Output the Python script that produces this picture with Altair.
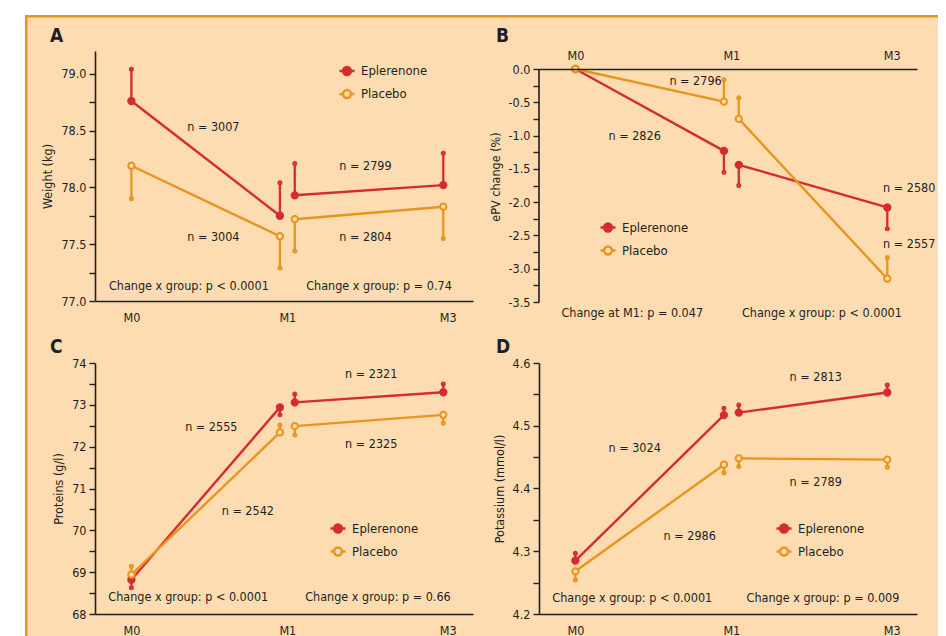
import json
import altair as alt
import pandas as pd

FONT = "DejaVu Sans Condensed"
RED = "#D52B33"
ORANGE = "#E8951E"
PEACH = "#FDDCB2"
INK = "#231F20"
FS = 12.5

groups = ["Eplerenone", "Placebo"]
visits = ["M0", "M1", "M1", "M3"]
x_pos = [0.0, 1.0, 1.1, 2.1]
segment = [1, 1, 2, 2]
x_tick_pos = [0.0, 1.05, 2.13]
x_tick_labels = ["M0", "M1", "M3"]

# Panel A - weight
A_epl = [78.76, 77.75, 77.93, 78.02]
A_epl_err = [79.04, 78.04, 78.21, 78.30]
A_pla = [78.19, 77.57, 77.72, 77.83]
A_pla_err = [77.90, 77.29, 77.44, 77.55]
A_ticks = [77.0, 77.25, 77.5, 77.75, 78.0, 78.25, 78.5, 78.75, 79.0]
A_notes = ["n = 3007", "n = 3004", "n = 2799", "n = 2804",
           "Change x group: p < 0.0001", "Change x group: p = 0.74"]
A_note_x = [0.552, 0.552, 1.576, 1.576, 0.387, 1.667]
A_note_y = [78.53, 77.56, 78.185, 77.56, 77.135, 77.135]

# Panel B - ePV change
B_epl = [0.0, -1.23, -1.44, -2.08]
B_epl_err = [None, -1.55, -1.75, -2.40]
B_pla = [0.0, -0.49, -0.75, -3.15]
B_pla_err = [None, -0.16, -0.43, -2.83]
B_ticks = [0.0, -0.25, -0.5, -0.75, -1.0, -1.25, -1.5, -1.75, -2.0,
           -2.25, -2.5, -2.75, -3.0, -3.25, -3.5]
B_axis_span = [0.0, -3.5]
B_notes = ["n = 2796", "n = 2826", "n = 2580", "n = 2557",
           "Change at M1: p = 0.047", "Change x group: p < 0.0001"]
B_note_x = [0.809, 0.399, 2.248, 2.248, 0.383, 1.66]
B_note_y = [-0.176, -1.005, -1.788, -2.63, -3.67, -3.67]

# Panel C - proteins
C_epl = [68.82, 72.94, 73.06, 73.30]
C_epl_err = [68.63, 72.76, 73.26, 73.50]
C_pla = [68.94, 72.34, 72.49, 72.76]
C_pla_err = [69.14, 72.52, 72.28, 72.56]
C_ticks = [68.0, 68.5, 69.0, 69.5, 70.0, 70.5, 71.0, 71.5, 72.0, 72.5, 73.0, 73.5, 74.0]
C_notes = ["n = 2321", "n = 2555", "n = 2325", "n = 2542",
           "Change x group: p < 0.0001", "Change x group: p = 0.66"]
C_note_x = [1.615, 0.538, 1.615, 0.784, 0.383, 1.66]
C_note_y = [73.744, 72.47, 72.06, 70.47, 68.395, 68.395]

# Panel D - potassium
D_epl = [4.285, 4.517, 4.521, 4.553]
D_epl_err = [4.297, 4.528, 4.533, 4.565]
D_pla = [4.268, 4.438, 4.448, 4.446]
D_pla_err = [4.254, 4.425, 4.435, 4.434]
D_ticks = [4.2, 4.25, 4.3, 4.35, 4.4, 4.45, 4.5, 4.55, 4.6]
D_notes = ["n = 2813", "n = 3024", "n = 2789", "n = 2986",
           "Change x group: p < 0.0001", "Change x group: p = 0.009"]
D_note_x = [1.618, 0.399, 1.618, 0.770, 0.383, 1.667]
D_note_y = [4.578, 4.464, 4.411, 4.324, 4.226, 4.226]

LEG_PATH = ("M-1,0L-0.53,0M0.53,0L1,0"
            "M-0.53,0A0.53,0.53,0,1,0,0.53,0A0.53,0.53,0,1,0,-0.53,0")

x_label_expr = "%s[indexof(%s, datum.value)]" % (json.dumps(x_tick_labels), json.dumps(x_tick_pos))


def vrect(x0, x1, y0, y1, color):
    return alt.Chart(pd.DataFrame({"k": [0]})).mark_rect(fill=color, stroke=None).encode(
        x=alt.value(x0), x2=alt.value(x1), y=alt.value(y0), y2=alt.value(y1))


def panel(letter, epl, epl_err, pla, pla_err, dom, h, ticks, step, fmt, ytitle,
          x_orient, notes, nx, ny, leg_xy, box, borders, letter_xy,
          x_offset=0, axis_span=None):
    rows = []
    for g, vals, errs in ((groups[0], epl, epl_err), (groups[1], pla, pla_err)):
        for i in range(4):
            rows.append(dict(group=g, visit=visits[i], x=x_pos[i], seg=segment[i],
                             y=vals[i], err=errs[i]))
    df = pd.DataFrame(rows)
    W = 378
    X = alt.X("x:Q", scale=alt.Scale(domain=[-0.245, 2.3], nice=False, zero=False),
              axis=alt.Axis(orient=x_orient, values=x_tick_pos, labelExpr=x_label_expr,
                            title=None, tickSize=0,
                            labelPadding=(7 if x_orient == "top" else 10),
                            labelFlush=False, labelOverlap=False, zindex=2, offset=x_offset))
    lab = ("abs(datum.value*%d - round(datum.value*%d)) < 0.001 ? "
           "(datum.value < -0.0001 ? '-' : '') + format(abs(datum.value), '%s') : ''") % (step, step, fmt)
    yaxis = alt.Axis(values=ticks, labelExpr=lab, title=ytitle, tickSize=6,
                     labelPadding=3, titlePadding=6, labelOverlap=False, zindex=2,
                     domain=axis_span is None)
    ysc = alt.Scale(domain=dom, nice=False, zero=False)
    Y = alt.Y("y:Q", scale=ysc, axis=yaxis)
    Yerr = alt.Y("err:Q", scale=ysc, axis=yaxis)
    legend = alt.Legend(title=None, orient="none", legendX=leg_xy[0], legendY=leg_xy[1],
                        symbolType=LEG_PATH, symbolSize=225, symbolStrokeWidth=2.4,
                        labelFont=FONT, labelFontSize=FS + 0.5, labelColor=INK, labelOffset=5,
                        rowPadding=5, padding=0, symbolOpacity=1, zindex=2)
    S = alt.Stroke("group:N", scale=alt.Scale(domain=groups, range=[RED, ORANGE]), legend=legend)
    F = alt.Fill("group:N", scale=alt.Scale(domain=groups, range=[RED, PEACH]), legend=legend)

    x0, x1, y0, y1 = box
    layers = [vrect(x0, x1, y0, y1, PEACH)]
    bw = 2.5
    if "top" in borders:
        layers.append(vrect(x0, x1, y0, y0 + bw, ORANGE))
    if "left" in borders:
        layers.append(vrect(x0, x0 + bw, y0, y1, ORANGE))

    base = alt.Chart(df)
    line = base.mark_line(strokeWidth=2.4).encode(x=X, y=Y, stroke=S, detail="seg:N", order="x:Q")
    errdf = base.transform_filter("isValid(datum.err) && isFinite(datum.err)")
    rule = errdf.mark_rule(strokeWidth=2.3).encode(x=X, y=Y, y2="err:Q", stroke=S)
    cap = errdf.mark_point(shape="circle", size=4, strokeWidth=3, filled=False, opacity=1).encode(
        x=X, y=Yerr, stroke=S)
    pts = base.mark_point(shape="circle", filled=True, size=40, strokeWidth=2, opacity=1).encode(
        x=X, y=Y, stroke=S, fill=F)
    ndf = pd.DataFrame({"x": nx, "y": ny, "t": notes})
    txt = alt.Chart(ndf).mark_text(font=FONT, fontSize=FS, color=INK).encode(
        x=X, y=Y, text="t:N")
    ldf = pd.DataFrame({"t": [letter]})
    let = alt.Chart(ldf).mark_text(font=FONT, fontSize=19, fontWeight="bold", color=INK,
                                   align="left", baseline="alphabetic").encode(
        x=alt.value(letter_xy[0]), y=alt.value(letter_xy[1]), text="t:N")
    if axis_span is not None:
        sdf = pd.DataFrame({"a": [axis_span[0]], "b": [axis_span[1]]})
        spine = alt.Chart(sdf).mark_rule(color=INK, strokeWidth=1.6).encode(
            x=alt.value(0), y=alt.Y("a:Q", scale=ysc, axis=yaxis), y2="b:Q")
        layers.append(spine)
    layers += [line, rule, cap, pts, txt, let]
    return alt.layer(*layers).properties(width=W, height=h)


pA = panel("A", A_epl, A_epl_err, A_pla, A_pla_err, [77.0, 79.2], 250, A_ticks, 2, ".1f",
           "Weight (kg)", "bottom", A_notes, A_note_x, A_note_y, (243, 11),
           (-70, 390, -36, 279), ("top", "left"), (-45, -9.5))
pB = panel("B", B_epl, B_epl_err, B_pla, B_pla_err, [-3.5, 0.2704], 251, B_ticks, 2, ".1f",
           "ePV change (%)", "top", B_notes, B_note_x, B_note_y, (60, 167.5),
           (-54, 399, -36, 279), ("top",), (-43, -9.5), x_offset=-18, axis_span=B_axis_span)
pC = panel("C", C_epl, C_epl_err, C_pla, C_pla_err, [68.0, 74.0], 251, C_ticks, 1, "d",
           "Proteins (g/l)", "bottom", C_notes, C_note_x, C_note_y, (234, 156.5),
           (-70, 390, -33, 280), ("left",), (-45, -10))
pD = panel("D", D_epl, D_epl_err, D_pla, D_pla_err, [4.2, 4.6], 251, D_ticks, 10, ".1f",
           "Potassium (mmol/l)", "bottom", D_notes, D_note_x, D_note_y, (236, 156.5),
           (-54, 399, -33, 280), (), (-43, -10))

chart = alt.concat(pA, pB, pC, pD, columns=2, spacing=0, align="each", bounds="full").resolve_scale(
    x="independent", y="independent", stroke="independent", fill="independent"
).resolve_legend(stroke="independent", fill="independent").properties(
    padding={"left": 17, "top": 7, "right": 0, "bottom": 0}, background="white"
).configure_view(stroke=None).configure_axis(
    grid=False, domainColor=INK, tickColor=INK, labelColor=INK, labelFont=FONT,
    labelFontSize=FS, titleFont=FONT, titleFontSize=FS, titleFontWeight="normal",
    titleColor=INK, domainWidth=1.6, tickWidth=1.4)

chart.save("out.html", embed_options={"renderer": "svg", "actions": False})
